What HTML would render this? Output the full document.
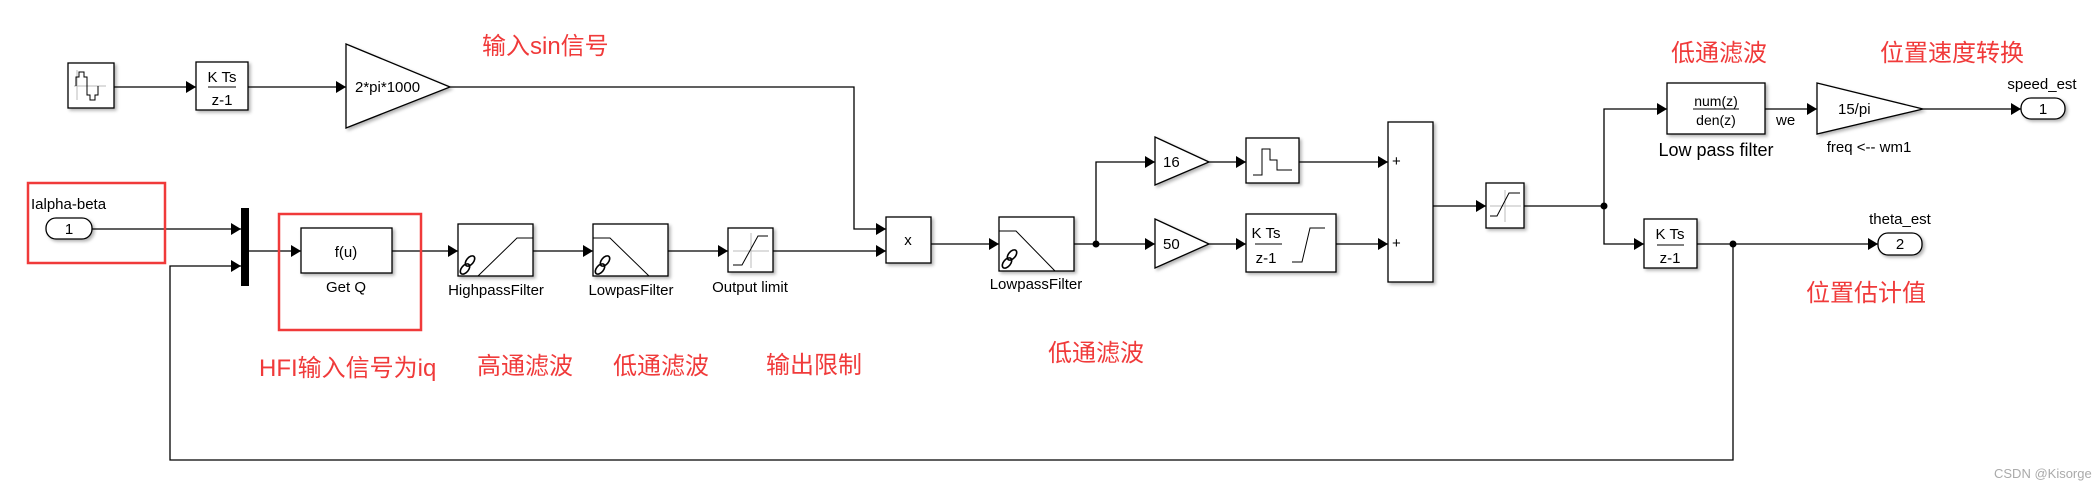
<!DOCTYPE html>
<html><head><meta charset="utf-8"><style>
html,body{margin:0;padding:0;background:#fff;}
svg{display:block;}
text{font-family:"Liberation Sans","Noto Sans CJK SC",sans-serif;}
.cn{font-family:"Liberation Sans","Noto Sans CJK SC",sans-serif;fill:#f03a3a;font-size:24px;}
.b{fill:#fff;stroke:#000;stroke-width:1.3;}
.l{fill:none;stroke:#000;stroke-width:1.3;}
.t{font-size:15px;fill:#000;}
.lk{fill:none;stroke:#000;stroke-width:1.6;}
</style></head><body>
<svg width="2098" height="490" viewBox="0 0 2098 490" xmlns="http://www.w3.org/2000/svg">
<defs>
<marker id="a" markerWidth="12" markerHeight="12" refX="10" refY="6" orient="auto" markerUnits="userSpaceOnUse">
<path d="M0,0 L10,6 L0,12 Z" fill="#000"/></marker>
<filter id="sh" x="-20%" y="-20%" width="150%" height="150%"><feDropShadow dx="2" dy="2" stdDeviation="1.5" flood-color="#000" flood-opacity="0.3"/></filter>
<g id="link"><ellipse cx="0" cy="-5" rx="3.5" ry="6" transform="rotate(40 0 -5)" class="lk"/><ellipse cx="-5" cy="3" rx="3.5" ry="6" transform="rotate(40 -5 3)" class="lk"/></g>
</defs>

<g class="l" marker-end="url(#a)">
<path d="M114,87 H196"/>
<path d="M248,87 H346"/>
<path d="M450,87 H854 V229 H886"/>
<path d="M92,229 H241"/>
<path d="M249,251 H301"/>
<path d="M392,251 H458"/>
<path d="M533,251 H593"/>
<path d="M668,251 H728"/>
<path d="M773,251 H886"/>
<path d="M931,244 H999"/>
<path d="M1074,244 H1155"/>
<path d="M1096,244 V162 H1155"/>
<path d="M1209,162 H1246"/>
<path d="M1209,244 H1246"/>
<path d="M1299,162 H1388"/>
<path d="M1336,244 H1388"/>
<path d="M1433,206 H1486"/>
<path d="M1524,206 H1604 V109 H1667"/>
<path d="M1604,206 V244 H1644"/>
<path d="M1765,109 H1817"/>
<path d="M1923,109 H2021"/>
<path d="M1697,244 H1878"/>
<path d="M1733,244 V460 H170 V266 H241"/>
</g>
<circle cx="1096" cy="244" r="3.5"/>
<circle cx="1604" cy="206" r="3.5"/>
<circle cx="1733" cy="244" r="3.5"/>

<rect x="28" y="183" width="137" height="80" fill="none" stroke="#f03a3a" stroke-width="2.5"/>
<rect x="279" y="214" width="142" height="116" fill="none" stroke="#f03a3a" stroke-width="2.5"/>

<rect class="b" x="68" y="63" width="46" height="45" filter="url(#sh)"/>
<path d="M74,86 H106 M77,70 V100" stroke="#bbb" fill="none"/>
<path d="M76,86 V77 H79 V72 H84 V77 H87 V86 V95 H90 V100 H95 V95 H98 V86" stroke="#000" fill="none"/>

<rect class="b" x="196" y="62" width="52" height="48" filter="url(#sh)"/>
<text class="t" x="222" y="82" text-anchor="middle">K Ts</text>
<line x1="208" y1="87" x2="236" y2="87" stroke="#000"/>
<text class="t" x="222" y="105" text-anchor="middle">z-1</text>

<path class="b" d="M346,44 L450,87 L346,128 Z" filter="url(#sh)"/>
<text class="t" x="355" y="92">2*pi*1000</text>

<text class="t" x="31" y="209">Ialpha-beta</text>
<rect class="b" x="46" y="218" width="46" height="21" rx="10" filter="url(#sh)"/>
<text class="t" x="69" y="234" text-anchor="middle">1</text>

<rect x="241" y="208" width="8" height="78" fill="#000"/>

<rect class="b" x="301" y="228" width="91" height="45" filter="url(#sh)"/>
<text class="t" x="346" y="257" text-anchor="middle">f(u)</text>
<text class="t" x="346" y="292" text-anchor="middle">Get Q</text>

<rect class="b" x="458" y="224" width="75" height="52" filter="url(#sh)"/>
<path d="M478,276 L517,238 H533" stroke="#000" fill="none"/>
<use href="#link" x="470" y="266"/>
<text class="t" x="496" y="295" text-anchor="middle">HighpassFilter</text>

<rect class="b" x="593" y="224" width="75" height="52" filter="url(#sh)"/>
<path d="M593,238 H610 L649,276" stroke="#000" fill="none"/>
<use href="#link" x="605" y="266"/>
<text class="t" x="631" y="295" text-anchor="middle">LowpasFilter</text>

<rect class="b" x="728" y="228" width="45" height="44" filter="url(#sh)"/>
<path d="M733,251 H769 M751,233 V268" stroke="#bbb" fill="none"/>
<path d="M733,265 H742 L758,236 H768" stroke="#000" fill="none"/>
<text class="t" x="750" y="292" text-anchor="middle">Output limit</text>

<rect class="b" x="886" y="217" width="45" height="46" filter="url(#sh)"/>
<text class="t" x="908" y="245" text-anchor="middle">x</text>

<rect class="b" x="999" y="217" width="75" height="54" filter="url(#sh)"/>
<path d="M999,231 H1016 L1055,271" stroke="#000" fill="none"/>
<use href="#link" x="1012" y="260"/>
<text class="t" x="1036" y="289" text-anchor="middle">LowpassFilter</text>

<path class="b" d="M1155,137 L1209,162 L1155,185 Z" filter="url(#sh)"/>
<text class="t" x="1163" y="167">16</text>
<path class="b" d="M1155,219 L1209,244 L1155,268 Z" filter="url(#sh)"/>
<text class="t" x="1163" y="249">50</text>

<rect class="b" x="1246" y="138" width="53" height="45" filter="url(#sh)"/>
<path d="M1253,175 H1262 V149 H1270 V160 H1277 V170 H1292" stroke="#000" fill="none"/>

<rect class="b" x="1246" y="214" width="90" height="58" filter="url(#sh)"/>
<text class="t" x="1266" y="238" text-anchor="middle">K Ts</text>
<line x1="1255" y1="244" x2="1282" y2="244" stroke="#000"/>
<text class="t" x="1266" y="263" text-anchor="middle">z-1</text>
<path d="M1292,262 H1302 L1310,228 H1325" stroke="#000" fill="none"/>

<rect class="b" x="1388" y="122" width="45" height="160" filter="url(#sh)"/>
<text class="t" x="1392" y="166">+</text>
<text class="t" x="1392" y="248">+</text>

<rect class="b" x="1486" y="183" width="38" height="45" filter="url(#sh)"/>
<path d="M1490,206 H1521 M1505,190 V222" stroke="#bbb" fill="none"/>
<path d="M1490,216 H1497 L1509,193 H1520" stroke="#000" fill="none"/>

<rect class="b" x="1667" y="83" width="98" height="51" filter="url(#sh)"/>
<text x="1716" y="106" text-anchor="middle" font-size="14" font-family="Liberation Serif,serif">num(z)</text>
<line x1="1693" y1="109" x2="1739" y2="109" stroke="#000"/>
<text x="1716" y="125" text-anchor="middle" font-size="14" font-family="Liberation Serif,serif">den(z)</text>
<text x="1716" y="156" text-anchor="middle" font-size="18">Low pass filter</text>
<text class="t" x="1776" y="125">we</text>

<path class="b" d="M1817,83 L1923,109 L1817,134 Z" filter="url(#sh)"/>
<text class="t" x="1838" y="114">15/pi</text>
<text class="t" x="1869" y="152" text-anchor="middle">freq &lt;-- wm1</text>

<text class="t" x="2042" y="89" text-anchor="middle">speed_est</text>
<rect class="b" x="2021" y="98" width="44" height="21" rx="10" filter="url(#sh)"/>
<text class="t" x="2043" y="114" text-anchor="middle">1</text>

<rect class="b" x="1644" y="219" width="53" height="49" filter="url(#sh)"/>
<text class="t" x="1670" y="239" text-anchor="middle">K Ts</text>
<line x1="1657" y1="245" x2="1684" y2="245" stroke="#000"/>
<text class="t" x="1670" y="263" text-anchor="middle">z-1</text>

<text class="t" x="1900" y="224" text-anchor="middle">theta_est</text>
<rect class="b" x="1878" y="233" width="44" height="22" rx="10" filter="url(#sh)"/>
<text class="t" x="1900" y="249" text-anchor="middle">2</text>

<text class="cn" x="482" y="54">输入sin信号</text>
<text class="cn" x="259" y="376">HFI输入信号为iq</text>
<text class="cn" x="477" y="374">高通滤波</text>
<text class="cn" x="613" y="374">低通滤波</text>
<text class="cn" x="766" y="373">输出限制</text>
<text class="cn" x="1048" y="361">低通滤波</text>
<text class="cn" x="1671" y="61">低通滤波</text>
<text class="cn" x="1880" y="61">位置速度转换</text>
<text class="cn" x="1806" y="301">位置估计值</text>

<text x="1994" y="478" font-size="13" fill="#aaa">CSDN @Kisorge</text>
</svg>
</body></html>
